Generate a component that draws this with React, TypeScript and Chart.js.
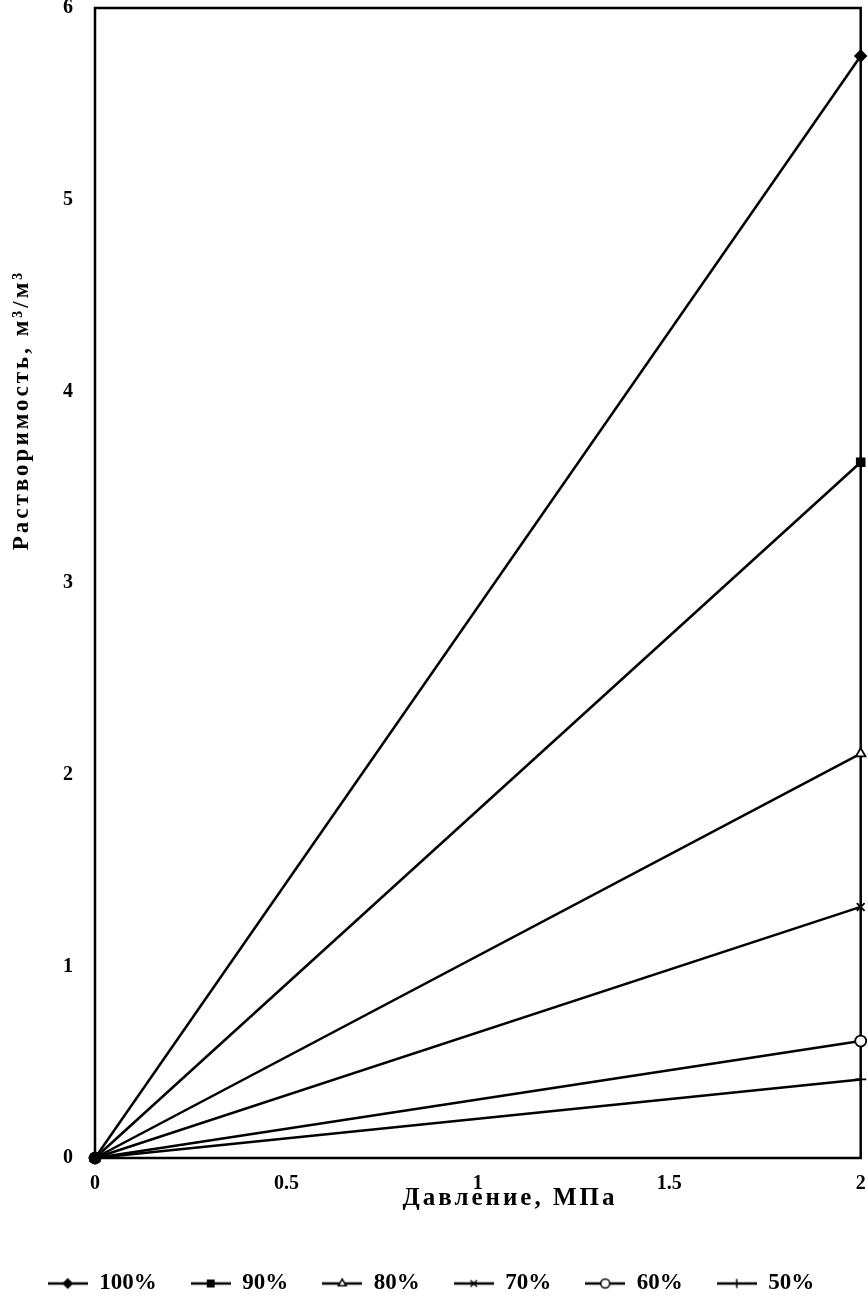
import React, { useEffect, useRef } from 'react';
import { Chart, registerables } from 'chart.js';
import { drawPoint } from 'chart.js/helpers';

Chart.register(...registerables);

// ---- data ----
const pressure = [0, 2];
const solubility100 = [0, 5.75];
const solubility90 = [0, 3.63];
const solubility80 = [0, 2.11];
const solubility70 = [0, 1.31];
const solubility60 = [0, 0.61];
const solubility50 = [0, 0.41];
const seriesLabels = ['100%', '90%', '80%', '70%', '60%', '50%'];
const xTickLabels = ['0', '0.5', '1', '1.5', '2'];
const yTickLabels = ['0', '1', '2', '3', '4', '5', '6'];
const xTitle = 'Давление, МПа';
const yTitle = 'Растворимость, м³/м³';

const seriesValues = [solubility100, solubility90, solubility80, solubility70, solubility60, solubility50];
const markerStyles = ['rectRot', 'rect', 'triangle', 'crossRot', 'circle', 'cross'];
const markerFilled = [true, true, false, false, false, true];

const FONT = "'Liberation Serif', serif";

function makeIcon(style: string, filled: boolean) {
  const c = document.createElement('canvas');
  c.width = 40;
  c.height = 16;
  const ctx = c.getContext('2d')!;
  ctx.strokeStyle = '#000';
  ctx.lineWidth = 2.5;
  ctx.beginPath();
  ctx.moveTo(0, 8);
  ctx.lineTo(40, 8);
  ctx.stroke();
  ctx.fillStyle = filled ? '#000' : '#fff';
  ctx.lineWidth = 1.5;
  drawPoint(ctx, { pointStyle: style as any, radius: 4.5, rotation: 0, borderWidth: 1.5 } as any, 20, 8);
  return c;
}

const framePlugin = {
  id: 'frame',
  beforeDatasetsDraw(chart: any) {
    const { ctx, chartArea } = chart;
    ctx.save();
    ctx.strokeStyle = '#000';
    ctx.lineWidth = 2.5;
    ctx.strokeRect(chartArea.left, chartArea.top, chartArea.right - chartArea.left, chartArea.bottom - chartArea.top);
    ctx.restore();
  },
  afterDraw(chart: any) {
    const { ctx } = chart;
    ctx.save();
    ctx.fillStyle = '#000';
    ctx.textAlign = 'center';
    ctx.textBaseline = 'middle';
    ctx.font = `bold 25px ${FONT}`;
    (ctx as any).letterSpacing = '3px';
    ctx.fillText(xTitle, 510, 1199);
    ctx.font = `bold 23px ${FONT}`;
    (ctx as any).letterSpacing = '3px';
    ctx.translate(22, 410);
    ctx.rotate(-Math.PI / 2);
    ctx.fillText(yTitle, 0, 0);
    ctx.restore();
  },
};

const noOverflow = (s: any) => {
  s.paddingTop = 0;
  s.paddingBottom = 0;
  s.paddingLeft = 0;
  s.paddingRight = 0;
};

export default function App() {
  const ref = useRef<HTMLCanvasElement>(null);
  useEffect(() => {
    document.body.style.margin = '0';
    const icons = markerStyles.map((s, i) => makeIcon(s, markerFilled[i]));
    const datasets = seriesValues.map((vals, i) => ({
      label: seriesLabels[i],
      data: pressure.map((p, j) => ({ x: p, y: vals[j] })),
      borderColor: '#000',
      backgroundColor: markerFilled[i] ? '#000' : '#fff',
      pointBorderColor: '#000',
      pointBackgroundColor: markerFilled[i] ? '#000' : '#fff',
      borderWidth: 2.5,
      pointStyle: markerStyles[i],
      pointRadius: 5.5,
      pointBorderWidth: 1.8,
      tension: 0,
      clip: false as any,
    }));
    const chart = new Chart(ref.current!, {
      type: 'line',
      data: { datasets },
      plugins: [framePlugin],
      options: {
        animation: false,
        responsive: false,
        layout: { padding: { top: 8, right: 6, left: 0, bottom: -6 } },
        scales: {
          x: {
            type: 'linear',
            min: 0,
            max: 2,
            ticks: {
              stepSize: 0.5,
              padding: 14,
              color: '#000',
              font: { family: FONT, size: 20, weight: 'bold' },
              callback: (_v: any, i: number) => xTickLabels[i],
            },
            grid: { display: false, drawTicks: false },
            border: { display: false },
            afterFit: (s: any) => { s.height = 80; noOverflow(s); },
          },
          y: {
            type: 'linear',
            min: 0,
            max: 6,
            ticks: {
              stepSize: 1,
              padding: 22,
              color: '#000',
              font: { family: FONT, size: 20, weight: 'bold' },
              callback: (_v: any, i: number) => yTickLabels[i],
            },
            grid: { display: false, drawTicks: false },
            border: { display: false },
            afterFit: (s: any) => { s.width = 95; noOverflow(s); },
          },
        },
        plugins: {
          tooltip: { enabled: false },
          legend: {
            position: 'bottom',
            labels: {
              usePointStyle: true,
              pointStyleWidth: 40,
              padding: 34,
              color: '#000',
              font: { family: FONT, size: 23, weight: 'bold' },
              generateLabels: (ch: any) =>
                ch.data.datasets.map((ds: any, i: number) => ({
                  text: ds.label,
                  pointStyle: icons[i],
                  fillStyle: '#000',
                  strokeStyle: '#000',
                  lineWidth: 0,
                  hidden: false,
                  datasetIndex: i,
                  fontColor: '#000',
                })),
            },
          },
        },
      },
    });
    return () => chart.destroy();
  }, []);
  return (
    <div style={{ width: 868, height: 1299 }}>
      <canvas ref={ref} width={868} height={1299} />
    </div>
  );
}
